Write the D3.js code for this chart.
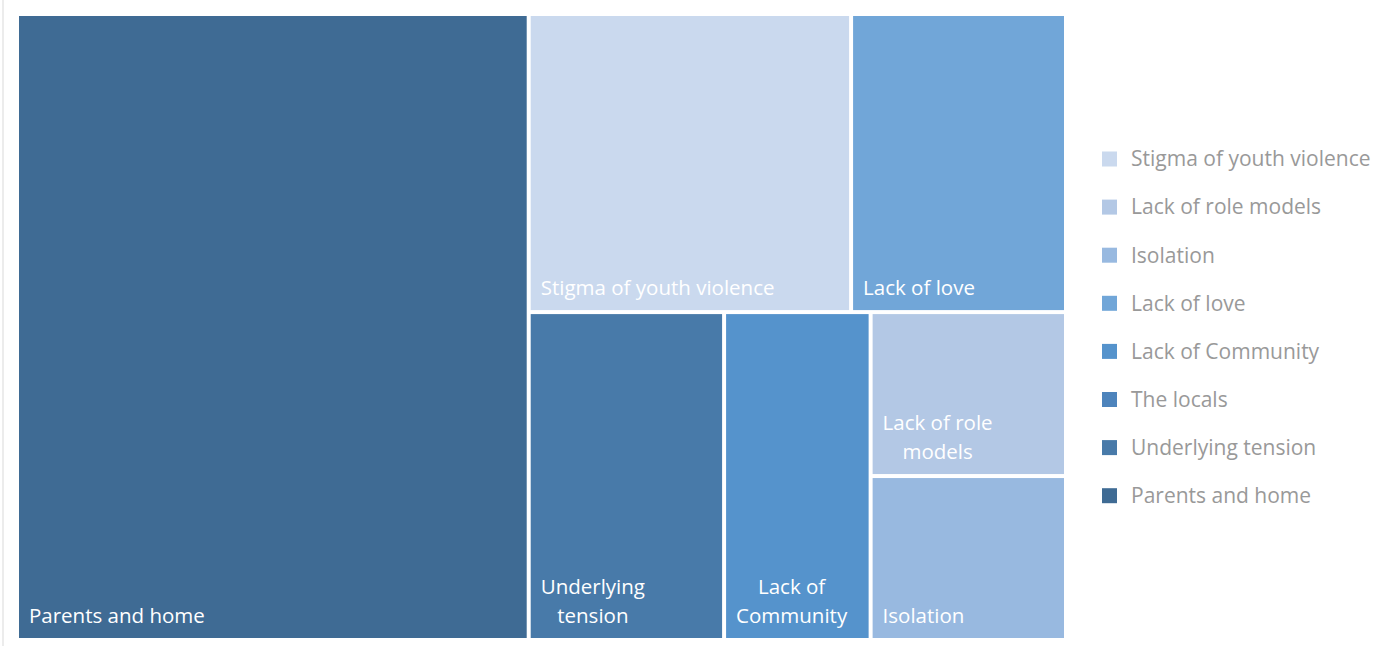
<!DOCTYPE html>
<html>
<head>
<meta charset="utf-8">
<script src="https://cdn.jsdelivr.net/npm/d3@7"></script>
<style>
  html, body { margin: 0; padding: 0; background: #fff; }
  svg { display: block; }
</style>
</head>
<body>
<svg id="chart" width="1398" height="646"></svg>
<script>
// Data (legend order)
const categories = ["Stigma of youth violence", "Lack of role models", "Isolation", "Lack of love",
                    "Lack of Community", "The locals", "Underlying tension", "Parents and home"];
const values = [6, 2, 2, 4, 3, 0, 4, 20];
const colors = ["#CAD9EE", "#B3C8E5", "#98B9E0", "#71A6D8", "#5593CC", "#4D84BC", "#487AA9", "#3F6B94"];

const svg = d3.select("#chart");
const fontFamily = "'Open Sans', Lato, sans-serif";

// border line on left
svg.append("line").attr("x1", 3).attr("x2", 3).attr("y1", 0).attr("y2", 646)
  .attr("stroke", "#d9d9d9").attr("stroke-width", 1);

const plot = { x: 19, y: 16, w: 1045, h: 622 };

const color = d3.scaleOrdinal().domain(categories).range(colors);

const leavesData = categories.map((c, i) => ({ name: c, value: values[i] })).filter(d => d.value > 0);
const root = d3.hierarchy({ name: "root", children: leavesData })
  .sum(d => d.value || 0)
  .sort((a, b) => b.value - a.value);

d3.treemap()
  .tile(d3.treemapBinary)
  .size([plot.w, plot.h])
  .paddingInner(4)
  .paddingOuter(0)(root);

const g = svg.append("g").attr("transform", `translate(${plot.x},${plot.y})`);

const cell = g.selectAll("g.cell").data(root.leaves()).join("g").attr("class", "cell");
cell.append("rect")
  .attr("x", d => d.x0).attr("y", d => d.y0)
  .attr("width", d => d.x1 - d.x0).attr("height", d => d.y1 - d.y0)
  .attr("fill", d => color(d.data.name));

// labels with wrapping
const fontSize = 20.5, lineH = 29;
const measure = svg.append("text").attr("font-family", fontFamily).attr("font-size", fontSize).attr("opacity", 0);
function textW(s) { measure.text(s); return measure.node().getComputedTextLength(); }

cell.each(function(d) {
  const maxW = (d.x1 - d.x0) - 24;
  const words = d.data.name.split(" ");
  const lines = [];
  let cur = "";
  words.forEach(w => {
    const t = cur ? cur + " " + w : w;
    if (cur && textW(t) > maxW) { lines.push(cur); cur = w; } else cur = t;
  });
  if (cur) lines.push(cur);
  const widths = lines.map(textW);
  const blockW = d3.max(widths);
  const x0 = d.x0 + 10;
  const baseBottom = d.y1 - 15;
  const t = d3.select(this).append("text")
    .attr("font-family", fontFamily).attr("font-size", fontSize).attr("fill", "#fff");
  lines.forEach((ln, i) => {
    t.append("tspan")
      .attr("x", x0 + blockW / 2)
      .attr("y", baseBottom - (lines.length - 1 - i) * lineH)
      .attr("text-anchor", "middle")
      .text(ln);
  });
});
measure.remove();

// legend
const legend = svg.append("g").attr("transform", "translate(1102,159)");
const li = legend.selectAll("g").data(categories).join("g")
  .attr("transform", (d, i) => `translate(0,${i * 48.1})`);
li.append("rect").attr("x", 0).attr("y", -7.5).attr("width", 15).attr("height", 15).attr("fill", d => color(d));
li.append("text").attr("x", 29).attr("y", 0).attr("dy", "0.35em")
  .attr("font-family", fontFamily).attr("font-size", 21).attr("fill", "#999")
  .text(d => d);
</script>
</body>
</html>
